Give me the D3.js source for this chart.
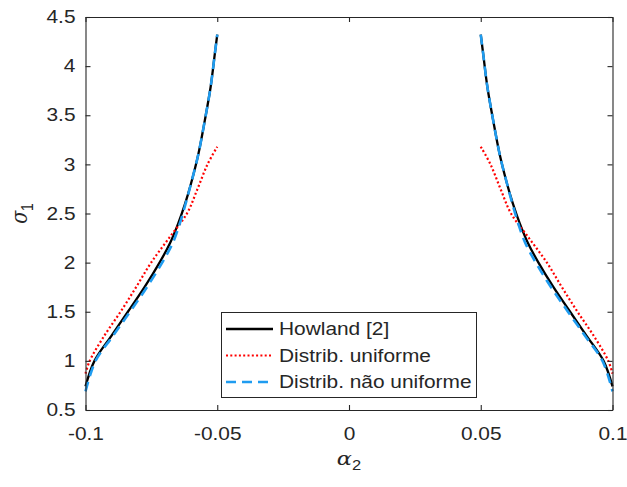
<!DOCTYPE html>
<html><head><meta charset="utf-8">
<script src="https://cdn.jsdelivr.net/npm/d3@7"></script>
<style>body{margin:0;background:#fff}svg{display:block}text{font-family:"Liberation Sans",Arial,sans-serif;fill:#262626}</style>
</head><body><svg id="c" width="627" height="487"></svg>
<script>
// ---- data ----
const xTicks = [-0.1, -0.05, 0, 0.05, 0.1];
const xTickLabels = ["-0.1", "-0.05", "0", "0.05", "0.1"];
const yTicks = [0.5, 1, 1.5, 2, 2.5, 3, 3.5, 4, 4.5];
const yTickLabels = ["0.5", "1", "1.5", "2", "2.5", "3", "3.5", "4", "4.5"];

const howlandLeftAlpha = [-0.1, -0.0966, -0.0903, -0.0839, -0.0776, -0.0719, -0.0679, -0.0648, -0.0622, -0.0600, -0.0572, -0.0547, -0.0525, -0.0509, -0.05];
const howlandLeftSigma = [0.74, 1.0, 1.25, 1.5, 1.75, 2.0, 2.2, 2.4, 2.6, 2.8, 3.1, 3.45, 3.79, 4.13, 4.32];
const howlandRightAlpha = [0.05, 0.0509, 0.0525, 0.0547, 0.0572, 0.0600, 0.0622, 0.0648, 0.0679, 0.0719, 0.0776, 0.0839, 0.0903, 0.0966, 0.1];
const howlandRightSigma = [4.32, 4.13, 3.79, 3.45, 3.1, 2.8, 2.6, 2.4, 2.2, 2.0, 1.75, 1.5, 1.25, 1.0, 0.74];

const uniformLeftAlpha = [-0.1, -0.0984, -0.0930, -0.0867, -0.0808, -0.0751, -0.0683, -0.0615, -0.0575, -0.0537, -0.05];
const uniformLeftSigma = [0.87, 1.0, 1.25, 1.5, 1.75, 2.0, 2.25, 2.5, 2.75, 3.0, 3.18];
const uniformRightAlpha = [0.05, 0.0537, 0.0575, 0.0615, 0.0683, 0.0751, 0.0808, 0.0867, 0.0930, 0.0984, 0.1];
const uniformRightSigma = [3.18, 3.0, 2.75, 2.5, 2.25, 2.0, 1.75, 1.5, 1.25, 1.0, 0.87];

const nonUniformLeftAlpha = [-0.1, -0.0962, -0.0897, -0.0831, -0.0767, -0.0709, -0.0669, -0.0642, -0.0620, -0.0600, -0.0572, -0.0547, -0.0525, -0.0509, -0.05];
const nonUniformLeftSigma = [0.69, 1.0, 1.25, 1.5, 1.75, 2.0, 2.2, 2.4, 2.6, 2.8, 3.1, 3.45, 3.79, 4.13, 4.32];
const nonUniformRightAlpha = [0.05, 0.0509, 0.0525, 0.0547, 0.0572, 0.0600, 0.0620, 0.0642, 0.0669, 0.0709, 0.0767, 0.0831, 0.0897, 0.0962, 0.1];
const nonUniformRightSigma = [4.32, 4.13, 3.79, 3.45, 3.1, 2.8, 2.6, 2.4, 2.2, 2.0, 1.75, 1.5, 1.25, 1.0, 0.69];

const legendLabels = ["Howland [2]", "Distrib. uniforme", "Distrib. não uniforme"];

// ---- layout ----
const L = 85.5, R = 612.5, T = 17, B = 410;
const SX = 1.18; // horizontal text stretch seen in the picture
const FS = 17.7;
const svg = d3.select("#c");
const x = d3.scaleLinear().domain([-0.1, 0.1]).range([L, R]);
const y = d3.scaleLinear().domain([0.5, 4.5]).range([B, T]);
const axisColor = "#262626";

const zip = (a, s) => a.map((v, i) => [v, s[i]]);
const line = d3.line().x(d => x(d[0])).y(d => y(d[1])).curve(d3.curveCatmullRom.alpha(0.5));

const styles = [
  {color: "#000000", width: 2.3, dash: null},
  {color: "#ff0000", width: 2.2, dash: "2,2.3"},
  {color: "#1f9cf0", width: 2.6, dash: "10,6"}
];
const series = [
  [zip(howlandLeftAlpha, howlandLeftSigma), zip(howlandRightAlpha, howlandRightSigma)],
  [zip(uniformLeftAlpha, uniformLeftSigma), zip(uniformRightAlpha, uniformRightSigma)],
  [zip(nonUniformLeftAlpha, nonUniformLeftSigma), zip(nonUniformRightAlpha, nonUniformRightSigma)]
];

const plot = svg.append("g");
series.forEach((branches, i) => {
  branches.forEach(b => {
    plot.append("path").attr("d", line(b)).attr("fill", "none")
      .attr("stroke", styles[i].color).attr("stroke-width", styles[i].width)
      .attr("stroke-dasharray", styles[i].dash);
  });
});

// ---- axes (ticks inside, box) ----
const tl = 5;
const xb = svg.append("g").attr("transform", `translate(0,${B})`)
  .call(d3.axisBottom(x).tickValues(xTicks).tickSizeInner(-tl).tickSizeOuter(0).tickPadding(17.5)
    .tickFormat((d, i) => xTickLabels[i]));
const xt = svg.append("g").attr("transform", `translate(0,${T})`)
  .call(d3.axisTop(x).tickValues(xTicks).tickSizeInner(-tl).tickSizeOuter(0).tickFormat(""));
const yl = svg.append("g").attr("transform", `translate(${L},0)`)
  .call(d3.axisLeft(y).tickValues(yTicks).tickSizeInner(-tl).tickSizeOuter(0).tickPadding(8.5)
    .tickFormat((d, i) => yTickLabels[i]));
const yr = svg.append("g").attr("transform", `translate(${R},0)`)
  .call(d3.axisRight(y).tickValues(yTicks).tickSizeInner(-tl).tickSizeOuter(0).tickFormat(""));
[xb, xt, yl, yr].forEach(g => {
  g.select(".domain").attr("stroke", axisColor).attr("stroke-width", 1.1);
  g.selectAll(".tick line").attr("stroke", axisColor).attr("stroke-width", 1.1);
  g.selectAll("text").attr("font-size", FS).attr("fill", axisColor)
    .attr("font-family", '"Liberation Sans", Arial, sans-serif')
    .attr("transform", `scale(${SX},1)`);
});

// ---- axis labels ----
const xlab = svg.append("text").attr("transform", `translate(${(L + R) / 2},465) scale(${SX},1)`)
  .attr("text-anchor", "middle").attr("font-size", 19);
xlab.append("tspan").text("α").attr("font-family", '"DejaVu Serif", serif').attr("font-style", "italic");
xlab.append("tspan").text("2").attr("font-size", 14).attr("dy", 5);

const ylab = svg.append("text").attr("transform", `translate(27,${(T + B) / 2}) scale(${SX},1) rotate(-90)`)
  .attr("text-anchor", "middle").attr("font-size", 19);
ylab.append("tspan").text("σ").attr("font-family", '"DejaVu Serif", serif').attr("font-style", "italic");
ylab.append("tspan").text("1").attr("font-size", 14).attr("dy", 5);

// ---- legend ----
const lg = svg.append("g");
lg.append("rect").attr("x", 221.5).attr("y", 312.5).attr("width", 255).attr("height", 85)
  .attr("fill", "#fff").attr("stroke", axisColor).attr("stroke-width", 1);
legendLabels.forEach((lab, i) => {
  const yy = 329 + i * 26.5;
  lg.append("line").attr("x1", 226).attr("x2", 273).attr("y1", yy).attr("y2", yy)
    .attr("stroke", styles[i].color).attr("stroke-width", styles[i].width)
    .attr("stroke-dasharray", styles[i].dash);
  lg.append("text").attr("transform", `translate(279,${yy + 6.3}) scale(${SX},1)`)
    .attr("font-size", FS).text(lab);
});
</script></body></html>
